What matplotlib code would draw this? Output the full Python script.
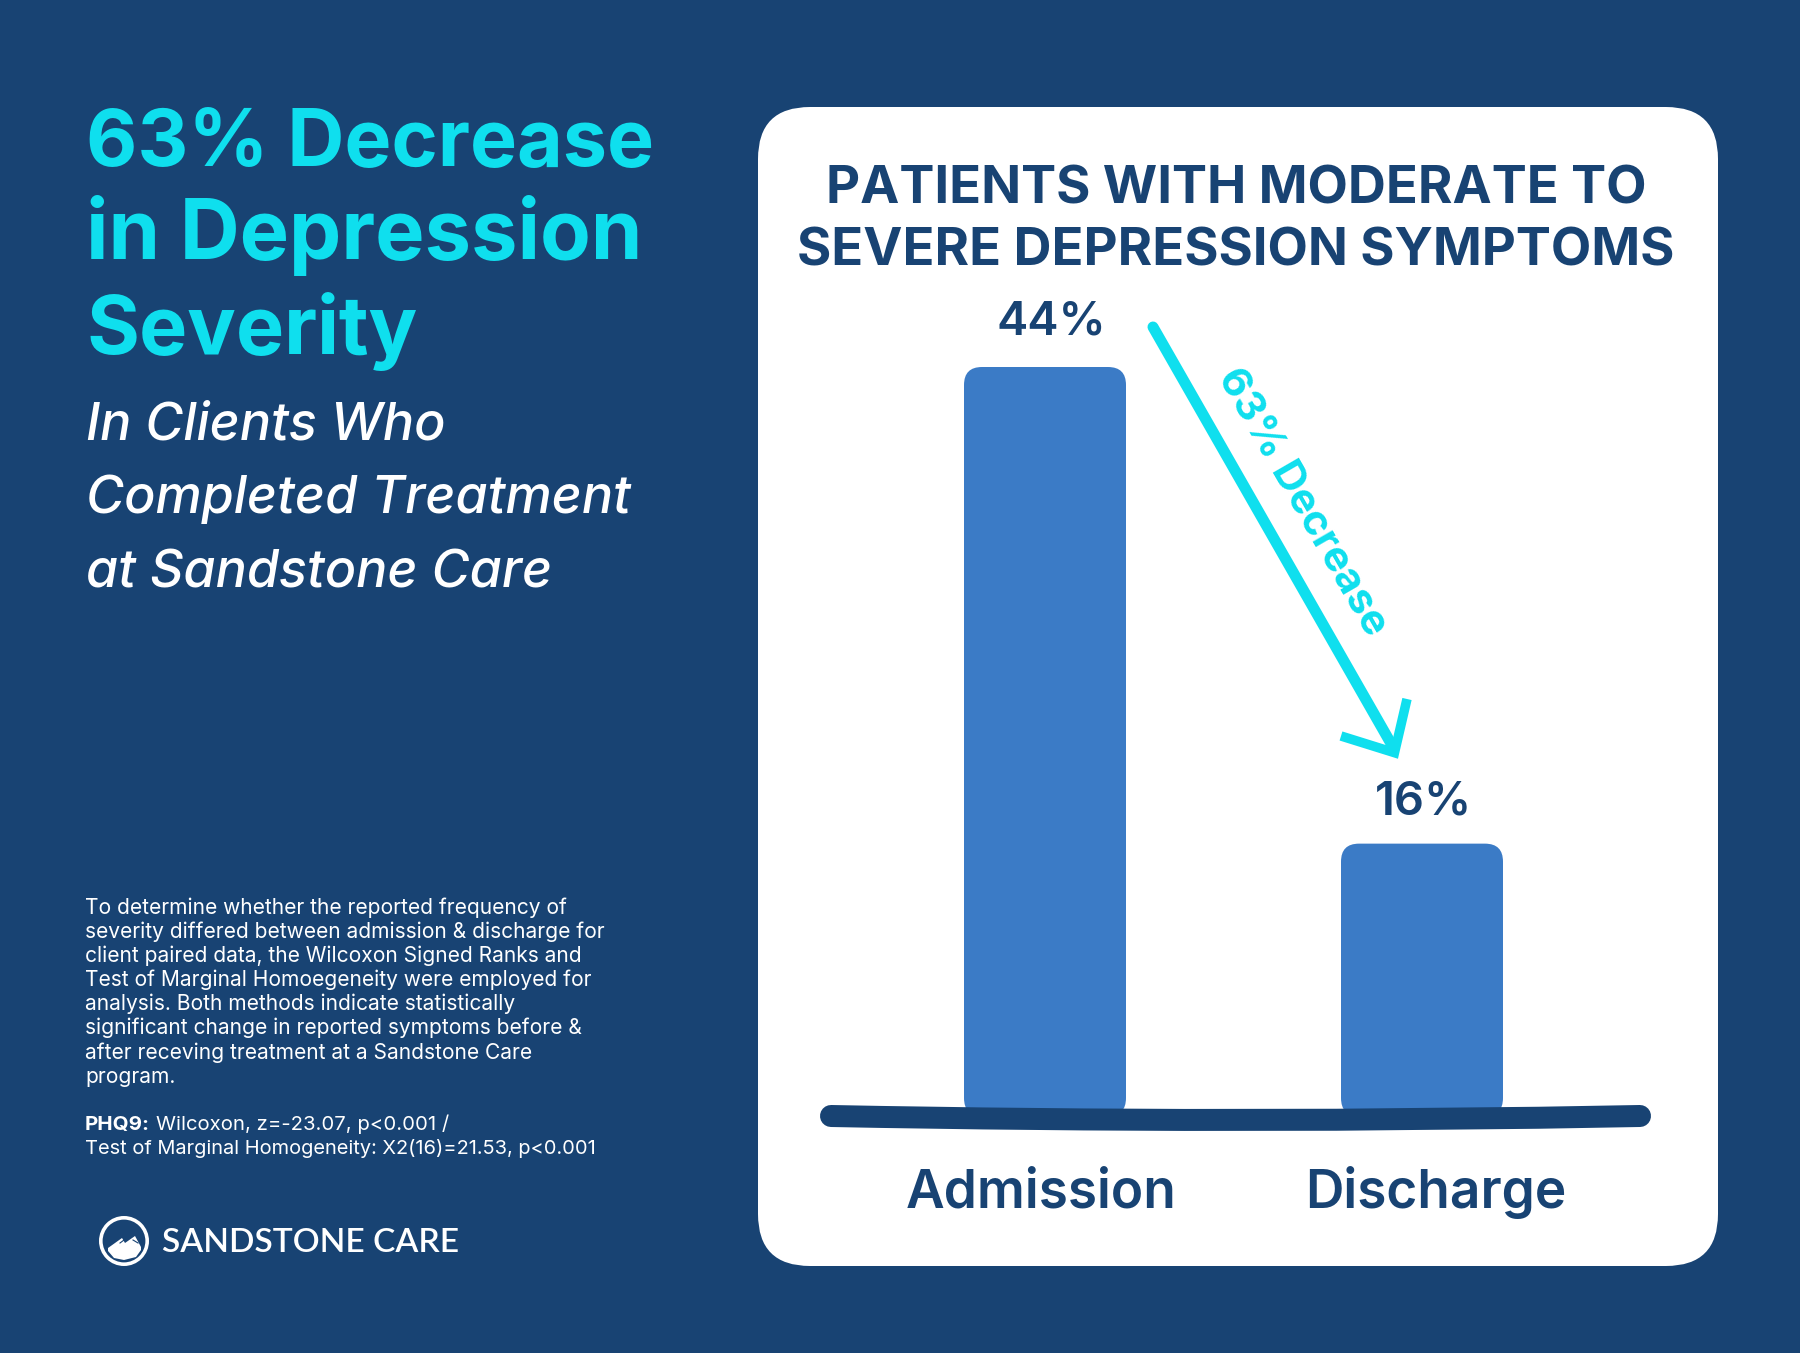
import matplotlib
matplotlib.use("Agg")
import matplotlib.pyplot as plt
from matplotlib.patches import Circle, FancyBboxPatch, PathPatch, Polygon
from matplotlib.path import Path

W, H = 1800, 1353

NAVY = "#184373"
CYAN = "#0FDFEE"
BAR = "#3B7BC6"
FONT = "Inter"

categories = ["Admission", "Discharge"]
values = [44, 16]
value_labels = ["44%", "16%"]
title_lines = ["63% Decrease", "in Depression", "Severity"]
subtitle_lines = ["In Clients Who", "Completed Treatment", "at Sandstone Care"]
chart_title = ["PATIENTS WITH MODERATE TO", "SEVERE DEPRESSION SYMPTOMS"]
body_lines = [
    "To determine whether the reported frequency of",
    "severity differed between admission & discharge for",
    "client paired data, the Wilcoxon Signed Ranks and",
    "Test of Marginal Homoegeneity were employed for",
    "analysis. Both methods indicate statistically",
    "significant change in reported symptoms before &",
    "after receving treatment at a Sandstone Care",
    "program.",
]
stat_lines = ["Wilcoxon, z=-23.07, p<0.001 /", "Test of Marginal Homogeneity: X2(16)=21.53, p<0.001"]


def px_size(px):
    return px * 72 / 100


fig = plt.figure(figsize=(W / 100, H / 100), dpi=100, facecolor=NAVY)

# background layer in pixel coordinates
pg = fig.add_axes([0, 0, 1, 1], zorder=0)
pg.set_xlim(0, W)
pg.set_ylim(H, 0)
pg.axis("off")

pg.add_patch(FancyBboxPatch((758, 107), 960, 1159, boxstyle="round,pad=0,rounding_size=52",
                            fc="white", ec="none"))

# Inter runs narrower than the original face on some lines, so sizes differ a little
for line, y, s in zip(title_lines, [166, 259, 354], [79, 83, 81]):
    pg.text(86, y, line, color=CYAN, fontsize=px_size(s), fontweight="bold", family=FONT, va="baseline")
for line, y in zip(subtitle_lines, [440, 513, 588]):
    pg.text(86, y, line, color="white", fontsize=px_size(52), fontweight="medium", style="italic",
            family=FONT, va="baseline")
for i, line in enumerate(body_lines):
    pg.text(85, 914 + i * 24.1, line, color="white", fontsize=px_size(21), family=FONT, va="baseline")
pg.text(85, 1130, "PHQ9:", color="white", fontsize=px_size(20.5), fontweight="bold", family=FONT, va="baseline")
pg.text(156, 1130, stat_lines[0], color="white", fontsize=px_size(20.3), family=FONT, va="baseline")
pg.text(85, 1154, stat_lines[1], color="white", fontsize=px_size(20), family=FONT, va="baseline")

for line, y in zip(chart_title, [204, 266]):
    pg.text(1236, y, line, color=NAVY, fontsize=px_size(52.5), fontweight="bold", family=FONT,
            ha="center", va="baseline")

# logo
ring = Circle((124, 1241), 23.2, fc="none", ec="white", lw=px_size(3.6))
pg.add_patch(ring)
mountain = Polygon([(108, 1248), (122, 1238), (125, 1243), (135, 1236), (141, 1247), (141, 1250),
                    (136, 1257), (124, 1260), (114, 1258), (108, 1251)], fc="white", ec="none")
pg.add_patch(mountain)
pg.plot([120, 124], [1243, 1240], color=NAVY, lw=0.8)
pg.plot([133, 138], [1240, 1243], color=NAVY, lw=0.8)
pg.text(162, 1252, "SANDSTONE CARE", color="white", fontsize=px_size(33.5), fontweight="semibold", family="Lato",
        va="baseline")

# chart layer, x 0 and 1 sit on the bar centres, y is percent
ax = fig.add_axes([758 / W, 1 - 1266 / H, 960 / W, 1159 / H], zorder=1)
ax.patch.set_alpha(0)
x_px = 377.0
y_px = 749 / 44
ax.set_xlim((758 - 1045) / x_px, (1718 - 1045) / x_px)
ax.set_ylim((1116 - 1266) / y_px, (1116 - 107) / y_px)
ax.axis("off")

bar_w = 162 / x_px
aspect = (1 / y_px) / (1 / x_px)
for i, v in enumerate(values):
    ax.add_patch(FancyBboxPatch((i - bar_w / 2, 0), bar_w, v,
                                boxstyle=f"round,pad=0,rounding_size={18 / x_px}",
                                mutation_aspect=aspect, fc=BAR, ec="none"))

label_shift = [0.018, 0.003]
label_gap = [1.9, 1.7]
for i, (v, lab) in enumerate(zip(values, value_labels)):
    ax.text(i + label_shift[i], v + label_gap[i], lab, color=NAVY, fontsize=px_size(47), fontweight="semibold",
            family=FONT, ha="center", va="baseline")
cat_shift = [-0.009, 0.036]
for i, cat in enumerate(categories):
    ax.text(i + cat_shift[i], -5.4, cat, color=NAVY, fontsize=px_size(53.2), fontweight="semibold",
            family=FONT, ha="center", va="baseline")

# overlay for baseline stroke and arrow
top = fig.add_axes([0, 0, 1, 1], zorder=2)
top.set_xlim(0, W)
top.set_ylim(H, 0)
top.axis("off")
top.patch.set_alpha(0)

base = Path([(831, 1116), (1235, 1124), (1640, 1116)], [Path.MOVETO, Path.CURVE3, Path.CURVE3])
top.add_patch(PathPatch(base, fc="none", ec=NAVY, lw=px_size(22), capstyle="round"))

top.plot([1153, 1393], [327, 747], color=CYAN, lw=px_size(11), solid_capstyle="round")
top.plot([1341, 1394.5, 1407], [736, 752.7, 699], color=CYAN, lw=px_size(9.5),
         solid_joinstyle="miter", solid_capstyle="butt")
top.text(1302, 502, "63% Decrease", color=CYAN, fontsize=px_size(42), fontweight="bold", family=FONT,
         rotation=-60, rotation_mode="anchor", ha="center", va="center")

fig.savefig("out.png", dpi=100, facecolor=NAVY)
